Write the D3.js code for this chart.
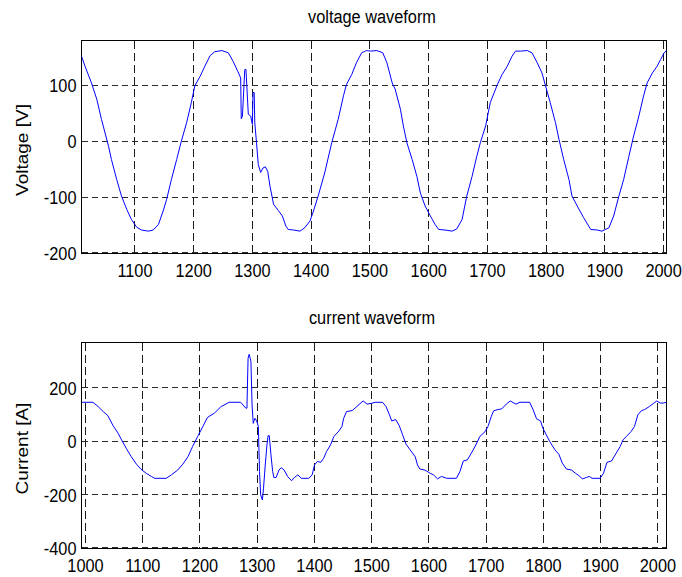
<!DOCTYPE html>
<html>
<head>
<meta charset="utf-8">
<script src="https://cdn.jsdelivr.net/npm/d3@7"></script>
<style>
  html, body { margin: 0; padding: 0; background: #fff; }
  svg { display: block; }
  text { font-family: "Liberation Sans", Arial, Helvetica, sans-serif; fill: #000; }
</style>
</head>
<body>
<svg id="chart" width="682" height="577"></svg>
<script>
// ---------------- data ----------------
const voltageSample = [
  1009,1015,1026,1035,1043,1055,1060,1069,1077,1086,
  1094,1103,1111,1123,1131,1140,1148,1154,1162,1171,
  1179,1188,1196,1202,1211,1219,1228,1236,1248,1259,
  1267,1275,1280,1281,1283,1287,1289,1293,1297,1300,
  1301,1303,1304,1307,1310,1314,1318,1322,1326,1330,
  1336,1344,1351,1357,1361,1370,1381,1389,1398,1404,
  1412,1423,1435,1446,1455,1460,1469,1477,1486,1494,
  1501,1512,1522,1529,1538,1543,1552,1557,1563,1572,
  1580,1586,1594,1603,1611,1617,1628,1640,1648,1657,
  1665,1674,1682,1688,1697,1705,1717,1725,1734,1742,
  1748,1756,1768,1776,1785,1793,1799,1807,1816,1822,
  1830,1839,1844,1853,1864,1876,1887,1895,1907,1915,
  1924,1932,1941,1949,1958,1966,1972,1981,1989,1995,
  2001,2005
];
const voltageValues = [
  152,134,104,75,39,-9,-33,-69,-98,-122,
  -140,-154,-159,-161,-159,-149,-125,-104,-69,-33,
  0,33,69,99,116,134,153,160,162,158,
  143,125,113,40,45,128,128,48,45,30,
  87,87,33,-3,-42,-56,-48,-46,-54,-81,
  -113,-124,-134,-152,-158,-159,-161,-155,-143,-125,
  -98,-57,-3,39,81,101,119,140,158,162,
  161,162,158,140,104,93,57,27,-3,-33,
  -63,-93,-116,-134,-149,-158,-159,-161,-157,-140,
  -98,-63,-27,-3,27,69,101,119,134,152,
  161,161,162,158,140,122,99,69,33,3,
  -33,-69,-98,-116,-137,-158,-159,-161,-155,-134,
  -98,-69,-27,9,45,81,104,122,134,146,
  158,162
];

const currentSample = [
  994,1013,1022,1031,1039,1048,1057,1063,1071,1080,
  1089,1097,1106,1115,1121,1141,1150,1161,1170,1179,
  1187,1196,1205,1213,1225,1237,1251,1271,1280,1282,
  1284,1286,1289,1291,1293,1296,1299,1302,1304,1306,
  1309,1311,1314,1317,1319,1321,1324,1327,1329,1333,
  1338,1342,1347,1353,1360,1365,1371,1377,1390,1396,
  1400,1405,1411,1416,1421,1428,1434,1443,1448,1451,
  1456,1466,1474,1485,1492,1500,1506,1519,1525,1531,
  1535,1542,1548,1554,1560,1567,1576,1580,1584,1593,
  1602,1608,1615,1622,1631,1648,1654,1660,1667,1674,
  1682,1689,1698,1703,1709,1713,1721,1727,1735,1742,
  1752,1759,1776,1782,1788,1795,1799,1805,1811,1820,
  1827,1833,1840,1849,1856,1862,1868,1875,1880,1885,
  1899,1905,1911,1919,1927,1934,1939,1945,1953,1959,
  1965,1971,1977,1985,1993,1998,2004,2009,2015
];
const currentValues = [
  146,146,130,111,96,59,30,5,-26,-58,
  -86,-105,-120,-132,-139,-139,-126,-108,-86,-58,
  -20,18,55,89,105,130,146,146,124,124,
  311,326,299,136,67,86,76,55,-114,-201,
  -220,-176,-89,-14,21,21,-51,-114,-136,-136,
  -108,-99,-108,-132,-148,-136,-126,-139,-139,-126,
  -89,-76,-79,-64,-39,-14,18,39,55,86,
  111,115,130,151,139,142,146,146,130,99,
  76,81,59,24,-11,-32,-58,-89,-104,-108,
  -120,-126,-141,-132,-139,-139,-114,-74,-70,-45,
  -14,18,36,55,93,114,119,121,139,151,
  139,146,146,118,84,76,49,24,-1,-32,
  -49,-82,-104,-108,-120,-129,-141,-136,-132,-139,
  -139,-120,-79,-74,-45,-20,5,18,36,55,
  99,114,119,130,143,151,143,143,146
];

const voltageXTicks = [1100,1200,1300,1400,1500,1600,1700,1800,1900,2000];
const voltageYTicks = [-200,-100,0,100];
const voltageYTickLabels = ["-200","-100","0","100"];
const currentXTicks = [1000,1100,1200,1300,1400,1500,1600,1700,1800,1900,2000];
const currentYTicks = [-400,-200,0,200];
const currentYTickLabels = ["-400","-200","0","200"];

const voltageXDomain = [1009, 2005];
const voltageYDomain = [-201, 180];
const currentXDomain = [993, 2015];
const currentYDomain = [-402, 370];

// ---------------- drawing ----------------
const svg = d3.select("#chart");
svg.append("rect").attr("width", 682).attr("height", 577).attr("fill", "#fff");

const FS = 19, SX = 0.86;

function panel(opts) {
  const {left, right, top, bottom, xDomain, yDomain, xTicks, yTicks, yLabels,
         xs, ys, title, ylabel, titleY, id} = opts;
  const x = d3.scaleLinear().domain(xDomain).range([left, right]);
  const y = d3.scaleLinear().domain(yDomain).range([bottom, top]);
  const g = svg.append("g");

  g.append("clipPath").attr("id", id).append("rect")
    .attr("x", left).attr("y", top).attr("width", right - left).attr("height", bottom - top);

  // grid
  g.selectAll(".vg").data(xTicks).join("line")
    .attr("x1", d => x(d)).attr("x2", d => x(d))
    .attr("y1", top).attr("y2", bottom)
    .attr("stroke", "#1a1a1a").attr("stroke-width", 1)
    .attr("stroke-dasharray", "8,4").attr("shape-rendering", "crispEdges");
  g.selectAll(".hg").data(yTicks).join("line")
    .attr("x1", left).attr("x2", right)
    .attr("y1", d => y(d)).attr("y2", d => y(d))
    .attr("stroke", "#2a2a2a").attr("stroke-width", 1)
    .attr("stroke-dasharray", "6,4").attr("shape-rendering", "crispEdges");

  // frame
  g.append("rect").attr("x", left).attr("y", top)
    .attr("width", right - left).attr("height", bottom - top)
    .attr("fill", "none").attr("stroke", "#000").attr("stroke-width", 1)
    .attr("shape-rendering", "crispEdges");

  // series
  const pts = xs.map((v, i) => [v, ys[i]]);
  g.append("path").datum(pts)
    .attr("clip-path", `url(#${id})`)
    .attr("fill", "none").attr("stroke", "#0000ff").attr("stroke-width", 1)
    .attr("stroke-linejoin", "round")
    .attr("d", d3.line().x(d => x(d[0])).y(d => y(d[1])));

  // x tick labels
  g.selectAll(".xl").data(xTicks).join("text")
    .attr("transform", d => `translate(${x(d)},${bottom + 23}) scale(${SX},1)`)
    .attr("text-anchor", "middle").attr("font-size", FS)
    .text(d => String(d));
  // y tick labels
  g.selectAll(".yl").data(yTicks).join("text")
    .attr("transform", d => `translate(${left - 5},${y(d) + 7}) scale(${SX},1)`)
    .attr("text-anchor", "end").attr("font-size", FS)
    .text((d, i) => yLabels[i]);

  // title
  g.append("text")
    .attr("transform", `translate(${(left + right) / 2 - 2},${titleY}) scale(${SX},1)`)
    .attr("text-anchor", "middle").attr("font-size", FS).text(title);

  // y label
  g.append("text")
    .attr("transform", `translate(28,${(top + bottom) / 2 + 3}) scale(${SX},1) rotate(-90)`)
    .attr("text-anchor", "middle").attr("font-size", FS).text(ylabel);
}

panel({
  id: "clipV", left: 81.5, right: 666.5, top: 40.5, bottom: 253.5,
  xDomain: voltageXDomain, yDomain: voltageYDomain,
  xTicks: voltageXTicks, yTicks: voltageYTicks, yLabels: voltageYTickLabels,
  xs: voltageSample, ys: voltageValues,
  title: "voltage waveform", ylabel: "Voltage [V]", titleY: 23
});
panel({
  id: "clipC", left: 81.5, right: 666.5, top: 342.5, bottom: 548.5,
  xDomain: currentXDomain, yDomain: currentYDomain,
  xTicks: currentXTicks, yTicks: currentYTicks, yLabels: currentYTickLabels,
  xs: currentSample, ys: currentValues,
  title: "current waveform", ylabel: "Current [A]", titleY: 324
});
</script>
</body>
</html>
